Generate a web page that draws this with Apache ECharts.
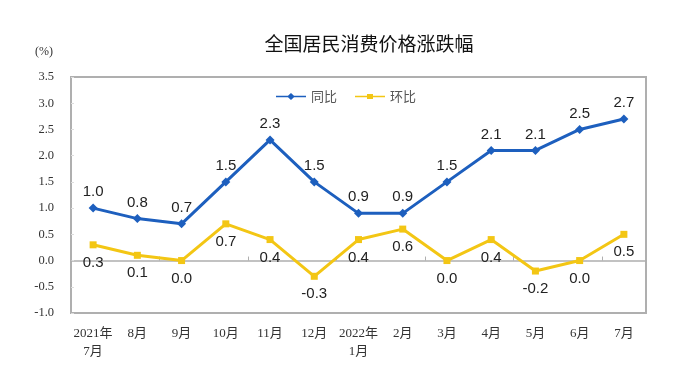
<!DOCTYPE html>
<html>
<head>
<meta charset="utf-8">
<script src="https://cdn.jsdelivr.net/npm/echarts@6/dist/echarts.min.js"></script>
<style>html,body{margin:0;padding:0;background:#fff;}#c{width:692px;height:373px;}</style>
</head>
<body>
<div id="c"></div>
<script>
var categories = ['2021年\n7月','8月','9月','10月','11月','12月','2022年\n1月','2月','3月','4月','5月','6月','7月'];
var yoy = [1.0,0.8,0.7,1.5,2.3,1.5,0.9,0.9,1.5,2.1,2.1,2.5,2.7];
var mom = [0.3,0.1,0.0,0.7,0.4,-0.3,0.4,0.6,0.0,0.4,-0.2,0.0,0.5];
var yTicks = {min:-1.0, max:3.5, interval:0.5};

var blue = '#1D5FBE', yellow = '#F3C614', gray = '#AFAFAF';
var serif = '"Liberation Serif","Noto Sans CJK SC",serif';
var chart = echarts.init(document.getElementById('c'));
chart.setOption({
  animation:false,
  backgroundColor:'#fff',
  title:{text:'全国居民消费价格涨跌幅', left:364, textAlign:'center', top:29,
    textStyle:{fontSize:19, fontWeight:'normal', color:'#111', fontFamily:'"Noto Sans CJK SC",sans-serif'}},
  legend:{top:85, left:'center', itemWidth:30, itemHeight:8, itemGap:18,
    textStyle:{fontSize:13, color:'#555', fontFamily:'"Noto Sans CJK SC",sans-serif'},
    data:[{name:'同比', icon:'path://M0,3.8L12,3.8L15,1L18,3.8L30,3.8L30,5.2L18,5.2L15,8L12,5.2L0,5.2Z'},
          {name:'环比', icon:'path://M0,3.8L12,3.8L12,2L18,2L18,3.8L30,3.8L30,5.2L18,5.2L18,7L12,7L12,5.2L0,5.2Z'}]},
  graphic:[{type:'text', left:35, top:46, style:{text:'(%)', fontSize:12, fontFamily:serif, fill:'#333'}}],
  grid:{left:71, top:77, right:46, bottom:60, show:true, borderColor:gray, borderWidth:2},
  xAxis:[{type:'category', data:categories, boundaryGap:true,
      axisLine:{onZero:false, lineStyle:{color:gray, width:2}}, axisTick:{show:false},
      axisLabel:{fontSize:13, color:'#333', fontFamily:serif, margin:12, lineHeight:18, interval:0}},
    {type:'category', data:categories, boundaryGap:true, position:'bottom',
      axisLine:{onZero:true, lineStyle:{color:gray, width:1.5}},
      axisTick:{show:true, inside:true, length:4, lineStyle:{color:gray}},
      axisLabel:{show:false}}],
  yAxis:{type:'value', min:yTicks.min, max:yTicks.max, interval:yTicks.interval,
    splitLine:{show:false}, axisLine:{show:true, lineStyle:{color:gray, width:2}},
    axisTick:{show:true, inside:true, length:3, lineStyle:{color:'#ddd'}},
    axisLabel:{fontSize:12.5, color:'#333', fontFamily:serif, margin:17, formatter:function(v){return v.toFixed(1);}}},
  series:[
    {name:'同比', type:'line', data:yoy, xAxisIndex:0, symbol:'diamond', symbolSize:9, color:blue,
      lineStyle:{width:3, color:blue}, itemStyle:{color:blue},
      label:{show:true, position:'top', distance:4, fontSize:15, color:'#222', fontFamily:'"Liberation Sans",Arial,sans-serif',
        formatter:function(p){return p.value.toFixed(1);}}},
    {name:'环比', type:'line', data:mom, xAxisIndex:0, symbol:'rect', symbolSize:7, color:yellow,
      lineStyle:{width:3, color:yellow}, itemStyle:{color:yellow},
      label:{show:true, position:'bottom', distance:7, fontSize:15, color:'#222', fontFamily:'"Liberation Sans",Arial,sans-serif',
        formatter:function(p){return p.value.toFixed(1);}}}
  ]
});
</script>
</body>
</html>
